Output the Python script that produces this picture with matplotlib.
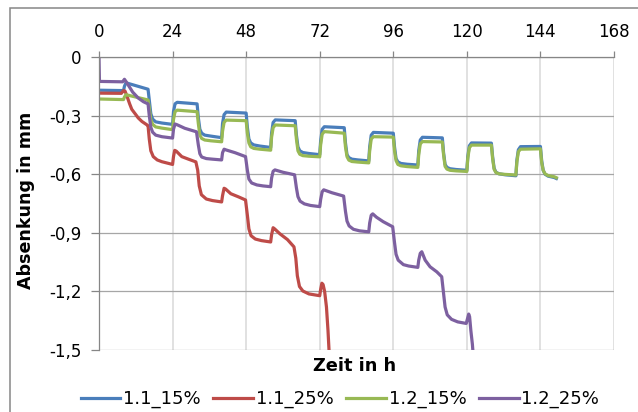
import matplotlib
matplotlib.use("Agg")
import matplotlib.pyplot as plt
from matplotlib.patches import Rectangle
from matplotlib.ticker import FuncFormatter

plt.rcParams['font.family'] = ['DejaVu Sans']

# Messzeitpunkte der 15%-Versuche (beide Reihen gleiche Zeitbasis)
t_15 = [0, 8.0,
        8.3, 8.8, 16.0,
        16.4, 16.9, 17.5, 18.5, 20.5, 24.0,
        24.3, 24.8, 25.5, 32.0,
        32.4, 32.9, 33.5, 34.5, 36.5, 40.0,
        40.3, 40.8, 41.5, 48.0,
        48.4, 48.9, 49.5, 50.5, 52.5, 56.0,
        56.3, 56.8, 57.5, 64.0,
        64.4, 64.9, 65.5, 66.5, 68.5, 72.0,
        72.3, 72.8, 73.5, 80.0,
        80.4, 80.9, 81.5, 82.5, 84.5, 88.0,
        88.3, 88.8, 89.5, 96.0,
        96.4, 96.9, 97.5, 98.5, 100.5, 104.0,
        104.3, 104.8, 105.5, 112.0,
        112.4, 112.9, 113.5, 114.5, 116.5, 120.0,
        120.3, 120.8, 121.5, 128.0,
        128.4, 128.9, 129.5, 130.5, 132.5, 136.0,
        136.3, 136.8, 137.5, 144.0,
        144.4, 144.9, 145.5, 146.5, 148.5, 149.2]

y_11_15 = [-0.170, -0.172,
           -0.150, -0.132, -0.165,
           -0.22, -0.29, -0.318, -0.332, -0.338, -0.345,
           -0.28, -0.240, -0.232, -0.240,
           -0.31, -0.37, -0.390, -0.400, -0.405, -0.413,
           -0.34, -0.295, -0.282, -0.287,
           -0.36, -0.42, -0.440, -0.450, -0.456, -0.463,
           -0.39, -0.335, -0.322, -0.326,
           -0.40, -0.46, -0.480, -0.489, -0.494, -0.500,
           -0.43, -0.370, -0.357, -0.362,
           -0.44, -0.50, -0.515, -0.523, -0.527, -0.532,
           -0.46, -0.400, -0.386, -0.390,
           -0.46, -0.52, -0.537, -0.545, -0.549, -0.553,
           -0.48, -0.425, -0.411, -0.414,
           -0.49, -0.55, -0.565, -0.572, -0.576, -0.580,
           -0.51, -0.455, -0.440, -0.441,
           -0.51, -0.57, -0.590, -0.598, -0.603, -0.608,
           -0.53, -0.475, -0.459, -0.458,
           -0.53, -0.58, -0.600, -0.610, -0.617, -0.622]

y_12_15 = [-0.215, -0.218,
           -0.205, -0.193, -0.220,
           -0.26, -0.32, -0.345, -0.358, -0.364, -0.372,
           -0.32, -0.280, -0.272, -0.280,
           -0.34, -0.40, -0.417, -0.425, -0.429, -0.434,
           -0.38, -0.335, -0.323, -0.326,
           -0.39, -0.44, -0.460, -0.468, -0.472, -0.477,
           -0.41, -0.362, -0.348, -0.352,
           -0.42, -0.48, -0.498, -0.505, -0.508, -0.511,
           -0.45, -0.395, -0.382, -0.390,
           -0.46, -0.51, -0.528, -0.535, -0.538, -0.542,
           -0.48, -0.420, -0.408, -0.410,
           -0.48, -0.53, -0.550, -0.557, -0.561, -0.565,
           -0.50, -0.445, -0.433, -0.435,
           -0.50, -0.56, -0.574, -0.580, -0.583, -0.586,
           -0.52, -0.465, -0.451, -0.451,
           -0.52, -0.575, -0.592, -0.598, -0.601, -0.604,
           -0.54, -0.485, -0.472, -0.470,
           -0.54, -0.58, -0.598, -0.607, -0.613, -0.618]

# 1.1_25%
t_11_25 = [0, 7.3, 8.0, 8.5, 9.0, 10.0, 10.7, 12.0, 12.8, 14.0, 15.6, 16.0,
           16.4, 16.9, 17.7, 19.0, 20.5, 24.0,
           24.3, 24.7, 25.2, 27.0, 29.0, 31.6,
           32.2, 32.7, 33.4, 35.0, 37.0, 40.0,
           40.3, 40.8, 41.3, 43.0, 45.5, 47.8,
           48.4, 48.9, 49.6, 51.0, 53.0, 56.0,
           56.3, 56.8, 57.3, 59.0, 61.5, 63.6,
           64.2, 64.7, 65.4, 66.5, 68.5, 72.0,
           72.3, 72.7, 73.1, 73.6, 74.2, 74.7, 75.1, 75.5]
y_11_25 = [-0.185, -0.186, -0.172, -0.175, -0.195, -0.240, -0.268, -0.295, -0.312, -0.330, -0.347, -0.352,
           -0.42, -0.48, -0.510, -0.527, -0.536, -0.550,
           -0.51, -0.478, -0.482, -0.510, -0.522, -0.537,
           -0.58, -0.66, -0.705, -0.727, -0.735, -0.742,
           -0.71, -0.672, -0.676, -0.700, -0.716, -0.732,
           -0.81, -0.88, -0.915, -0.932, -0.940, -0.947,
           -0.91, -0.874, -0.880, -0.905, -0.935, -0.972,
           -1.03, -1.12, -1.175, -1.198, -1.213, -1.222,
           -1.19, -1.158, -1.165, -1.20, -1.28, -1.40, -1.52, -1.65]

# 1.2_25%
t_12_25 = [0, 0.15, 7.7, 8.3, 9.0, 10.0, 11.0, 12.8, 14.5, 16.0,
           16.4, 16.9, 17.5, 18.5, 20.5, 24.0,
           24.3, 24.8, 25.5, 28.0, 31.8,
           32.4, 32.9, 33.5, 35.0, 37.0, 40.0,
           40.3, 40.8, 41.5, 44.4, 47.8,
           48.4, 48.9, 49.8, 51.5, 53.5, 56.0,
           56.3, 56.8, 57.4, 60.0, 63.8,
           64.4, 64.9, 65.6, 67.0, 69.0, 72.0,
           72.3, 72.8, 73.3, 76.0, 79.8,
           80.4, 80.9, 81.6, 83.0, 85.0, 88.0,
           88.3, 88.8, 89.3, 90.5, 92.7, 95.8,
           96.4, 96.9, 97.6, 99.3, 101.0, 104.0,
           104.3, 104.8, 105.3, 106.4, 108.0, 110.2, 111.8,
           112.4, 112.9, 113.6, 115.0, 117.0, 119.8,
           120.2, 120.6, 120.9, 121.3, 121.8, 122.2, 122.6]
y_12_25 = [0.0, -0.125, -0.127, -0.114, -0.130, -0.155, -0.180, -0.210, -0.229, -0.240,
           -0.30, -0.36, -0.385, -0.400, -0.408, -0.415,
           -0.37, -0.343, -0.347, -0.365, -0.383,
           -0.45, -0.495, -0.512, -0.520, -0.523, -0.527,
           -0.49, -0.472, -0.476, -0.490, -0.510,
           -0.58, -0.625, -0.645, -0.655, -0.660, -0.664,
           -0.62, -0.585, -0.578, -0.590, -0.603,
           -0.67, -0.715, -0.738, -0.752, -0.760, -0.766,
           -0.73, -0.690, -0.680, -0.695, -0.712,
           -0.79, -0.84, -0.865, -0.882, -0.890, -0.895,
           -0.85, -0.810, -0.803, -0.820, -0.843, -0.869,
           -0.95, -1.01, -1.040, -1.063, -1.070, -1.077,
           -1.04, -1.005, -0.997, -1.040, -1.074, -1.100, -1.125,
           -1.21, -1.28, -1.32, -1.343, -1.356, -1.364,
           -1.34, -1.316, -1.330, -1.40, -1.47, -1.55, -1.65]

x_ticks = [0, 24, 48, 72, 96, 120, 144, 168]
y_ticks = [0, -0.3, -0.6, -0.9, -1.2, -1.5]

fig = plt.figure(figsize=(6.38, 4.12), dpi=100)
ax = fig.add_axes([99 / 638, 1 - 350 / 412, 515 / 638, 293 / 412])

lw = 2.3
ax.plot(t_15, y_11_15, color='#4A7EBB', lw=lw, label='1.1_15%', solid_joinstyle='round')
ax.plot(t_11_25, y_11_25, color='#BE4B48', lw=lw, label='1.1_25%', solid_joinstyle='round')
ax.plot(t_15, y_12_15, color='#98B954', lw=lw, label='1.2_15%', solid_joinstyle='round')
ax.plot(t_12_25, y_12_25, color='#7D60A0', lw=lw, label='1.2_25%', solid_joinstyle='round')

ax.set_xlim(0, 168)
ax.set_ylim(-1.5, 0)
ax.set_xticks(x_ticks)
ax.set_yticks(y_ticks)
ax.yaxis.set_major_formatter(FuncFormatter(lambda v, p: ('%g' % round(v, 1)).replace('.', ',')))
ax.xaxis.tick_top()

ax.grid(axis='y', color='#A6A6A6', lw=0.9)
ax.grid(axis='x', color='#D9D9D9', lw=1.1)
ax.set_axisbelow(True)
for s in ['right', 'bottom']:
    ax.spines[s].set_visible(False)
for s in ['top', 'left']:
    ax.spines[s].set_color('#868686')
    ax.spines[s].set_linewidth(0.9)

ax.tick_params(axis='x', colors='#868686', labelcolor='black', length=4.5, width=0.9,
               labelsize=12, pad=7)
ax.tick_params(axis='y', colors='#868686', labelcolor='black', length=5.5, width=0.9,
               labelsize=12, pad=7)

fig.text(26 / 638, 1 - 200 / 412, 'Absenkung in mm', rotation=90, ha='center', va='center',
         fontsize=12.6, fontweight='bold')
fig.text(355 / 638, 1 - 366 / 412, 'Zeit in h', ha='center', va='center',
         fontsize=12.8, fontweight='bold')

fig.legend(loc='center', bbox_to_anchor=(340 / 638, 1 - 399 / 412), ncol=4, frameon=False,
           fontsize=13, handlelength=2.2, handletextpad=0.15, columnspacing=0.7,
           borderaxespad=0, borderpad=0)

# Rahmen um das Diagramm
fig.patches.append(Rectangle((10 / 638, -0.1), 1.2, 1 - 8 / 412 + 0.1, transform=fig.transFigure,
                             fill=False, edgecolor='#868686', lw=1.1))

fig.savefig('out.png', dpi=100)
